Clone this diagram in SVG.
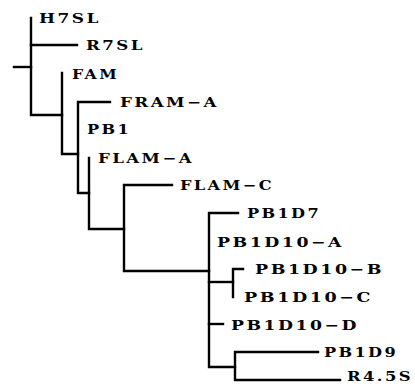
<svg xmlns="http://www.w3.org/2000/svg" width="415" height="384" viewBox="0 0 415 384">
<style>
.e{fill:none;stroke:#000;stroke-width:2.4;stroke-linecap:square;stroke-linejoin:miter}
.t{font-family:"DejaVu Serif","Liberation Serif",serif;font-weight:bold;font-size:13.5px;letter-spacing:2px;fill:#000}
</style>
<rect width="415" height="384" fill="#fff"/>
<g id="connectors">
<path class="e" d="M14 67H31"/>
<path class="e" d="M31 18V115H62"/>
<path class="e" d="M31 45H77"/>
<path class="e" d="M62 73V154H78"/>
<path class="e" d="M110 102H78V193H89"/>
<path class="e" d="M89 158V229H124"/>
<path class="e" d="M172 185H124V271H209"/>
<path class="e" d="M238 213H209V367H235"/>
<path class="e" d="M209 282H233"/>
<path class="e" d="M243 269H233V297"/>
<path class="e" d="M209 324H223"/>
<path class="e" d="M318 352H235V380H340"/>
</g>
<g id="H7SL"><text class="t" x="39" y="23" textLength="62" lengthAdjust="spacingAndGlyphs">H7SL</text></g>
<g id="R7SL"><text class="t" x="86" y="50" textLength="59" lengthAdjust="spacingAndGlyphs">R7SL</text></g>
<g id="FAM"><text class="t" x="72" y="78.5" textLength="47" lengthAdjust="spacingAndGlyphs">FAM</text></g>
<g id="FRAM-A"><text class="t" x="120" y="106.5" textLength="99" lengthAdjust="spacingAndGlyphs">FRAM−A</text></g>
<g id="PB1"><text class="t" x="87" y="133.5" textLength="44" lengthAdjust="spacingAndGlyphs">PB1</text></g>
<g id="FLAM-A"><text class="t" x="98" y="162.5" textLength="96" lengthAdjust="spacingAndGlyphs">FLAM−A</text></g>
<g id="FLAM-C"><text class="t" x="180" y="189.5" textLength="94" lengthAdjust="spacingAndGlyphs">FLAM−C</text></g>
<g id="PB1D7"><text class="t" x="247" y="217.5" textLength="74" lengthAdjust="spacingAndGlyphs">PB1D7</text></g>
<g id="PB1D10-A"><text class="t" x="217" y="246.5" textLength="127" lengthAdjust="spacingAndGlyphs">PB1D10−A</text></g>
<g id="PB1D10-B"><text class="t" x="255" y="273.5" textLength="129" lengthAdjust="spacingAndGlyphs">PB1D10−B</text></g>
<g id="PB1D10-C"><text class="t" x="244" y="301.5" textLength="129" lengthAdjust="spacingAndGlyphs">PB1D10−C</text></g>
<g id="PB1D10-D"><text class="t" x="231" y="329.5" textLength="128" lengthAdjust="spacingAndGlyphs">PB1D10−D</text></g>
<g id="PB1D9"><text class="t" x="324" y="356.5" textLength="74" lengthAdjust="spacingAndGlyphs">PB1D9</text></g>
<g id="R4.5S"><text class="t" x="347" y="381" textLength="66" lengthAdjust="spacingAndGlyphs">R4.5S</text></g>
</svg>
